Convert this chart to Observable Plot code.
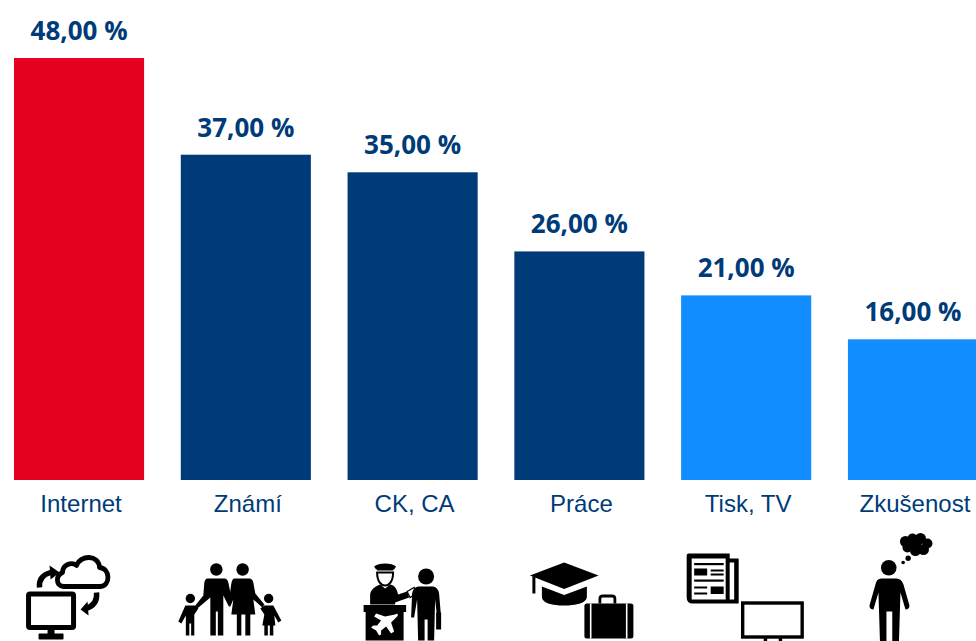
<!DOCTYPE html>
<html lang="cs">
<head>
<meta charset="utf-8">
<script src="https://cdn.jsdelivr.net/npm/d3@7"></script>
<script src="https://cdn.jsdelivr.net/npm/@observablehq/plot@0.6"></script>
<style>
html,body{margin:0;padding:0;background:#fff;overflow:hidden}
</style>
</head>
<body>
<div id="chart"></div>
<script>
const categories = ["Internet", "Známí", "CK, CA", "Práce", "Tisk, TV", "Zkušenost"];
const shares = [48, 37, 35, 26, 21, 16];
const valueLabels = ["48,00 %", "37,00 %", "35,00 %", "26,00 %", "21,00 %", "16,00 %"];
const barColors = ["#e6001f", "#003b79", "#003b79", "#003b79", "#128dff", "#128dff"];

const iconInternet = `
<path fill="none" stroke="#000" stroke-width="4.8" stroke-linejoin="round" d="M49 55 C41 54 41 44 48 41 C48 33 57 30 62 34 C66 23 84 23 85 36 C96 37 96 54 86 55 Z"/>
<rect x="14" y="62.5" width="45" height="33.5" rx="1.5" fill="none" stroke="#000" stroke-width="5"/>
<rect x="33" y="97" width="7" height="6"/><rect x="24" y="102" width="25" height="6" rx="1"/>
<path fill="none" stroke="#000" stroke-width="5.4" d="M25 56 C24 47 29 43 36 41"/><path d="M35 34 L45 41 L36 48 Z"/>
<path fill="none" stroke="#000" stroke-width="5.4" d="M82 61 C83 70 78 75 71 77"/><path d="M73 70 L66 78 L74 84 Z"/>`;

const iconFamily = `
<circle cx="35" cy="38" r="6.2"/><circle cx="61.3" cy="38" r="6.2"/>
<circle cx="9" cy="67" r="4.7"/><circle cx="87.3" cy="67" r="4.7"/>
<path d="M26 47 H43 Q46 47 47 51 L50 66 L48 76 L45 70 L42 64 V104 H36.5 V80 H34.5 V104 H29 V66 L16 77 L14 74 L22 64 L23 51 Q24 47 26 47 Z"/>
<path d="M53 47 H68 Q71 47 72 51 L74 62 L83 73 L81 76 L72 68 L74 83 H69 V104 H64 V83 H60 V104 H55.5 V83 H50 L52 68 L49 75 L47 73 L50 52 Q51 47 53 47 Z"/>
<path d="M4 74 H14 L17 77 L13 83 V104 H9.8 V92 H8 V104 H4.5 V84 L0 92 L-3 90 Z"/>
<path d="M83 74 H92 L100 89 L97 91 L93 84 L94 94 H92 V104 H88.5 V94 H86.5 V104 H83 V94 H81 L83 83 L79 77 Z"/>`;

const iconAgency = `
<path d="M26 35 C30 31 44 31 48 35 L46 38 H28 Z"/><rect x="29" y="37" width="16" height="2"/>
<path d="M29 41 C29 50 33 54 37 54 C41 54 45 50 45 41 Z" fill="none" stroke="#000" stroke-width="2"/>
<path d="M22 73 V64 C22 58 27 55 32 53 L37 57 L42 53 C47 54 49 58 50 63 L59 60 L61 66 L47 71 V73 Z"/>
<path d="M59 60 L66 56 L68 62 L62 66 Z" fill="none" stroke="#000" stroke-width="1.2"/>
<rect x="15.5" y="73.5" width="42.5" height="7"/><rect x="17.5" y="80" width="38" height="29"/>
<path fill="#fff" d="M47 83 C49 81 51 83 49 85 L43 91 L46 100 L43 102 L38 95 L33 99 L33 103 L31 104 L28 99 L23 96 L25 94 L29 94 L33 89 L26 85 L28 82 L37 85 Z"/>
<circle cx="78" cy="45" r="8"/>
<path d="M70 55 H85 Q90 56 91 62 L93 86 H89 L87 68 L86 109 H79.5 V88 H76.5 V109 H70 L69 68 L66 86 H63 L64 62 Q65 56 70 55 Z"/>
<rect x="88" y="81" width="5" height="17"/>`;

const iconWork = `
<path d="M15 44 L49.3 31 L83.7 44 L49.3 57.5 Z"/>
<rect x="17.5" y="45" width="3" height="17"/>
<path d="M27 55 L49.3 63.5 L72 55 V65 C72 72 60 74 49.3 74 C38 74 27 72 27 65 Z"/>
<path fill="none" stroke="#000" stroke-width="2.8" d="M85 72 V67 Q85 64.5 88 64.5 H97 Q100 64.5 100 67 V72"/>
<rect x="69.5" y="72" width="49" height="35" rx="2.5"/>
<rect x="75" y="72" width="1.6" height="35" fill="#fff"/><rect x="111" y="72" width="1.6" height="35" fill="#fff"/>`;

const iconPress = `
<path d="M7 22 H48 V27 H57 V72 H11 Q5 72 5 66 V24 Q5 22 7 22 Z"/>
<path fill="#fff" d="M10 27 H44 V68 H10 Z"/>
<rect x="48" y="31" width="4.5" height="37" fill="#fff"/>
<rect x="12.5" y="31.5" width="29.5" height="2.2"/>
<rect x="12.5" y="37" width="13" height="7"/><rect x="29" y="38" width="13" height="2"/><rect x="29" y="42" width="13" height="2"/>
<rect x="12.5" y="48" width="29.5" height="2.2"/>
<rect x="12.5" y="55" width="13" height="2"/><rect x="12.5" y="61" width="13" height="2"/><rect x="29" y="55" width="13" height="7.5"/>
<rect x="61" y="71.5" width="59.5" height="34" fill="#fff" stroke="#000" stroke-width="3.4"/>
<rect x="82" y="106" width="3.5" height="5"/><rect x="97" y="106" width="3.5" height="5"/>`;

const iconThought = `
<circle cx="40.3" cy="36.3" r="7.8"/>
<path d="M33 47 H48 Q53 47 55 53 L61 74 Q61 78 57 78 L52 61 L50.5 110 H43.8 V80 H38 V110 H31.5 L30 61 L25 78 Q21 78 21 74 L27 53 Q28 47 33 47 Z"/>
<circle cx="59.7" cy="26.7" r="2.7"/><circle cx="54.7" cy="31" r="1.8"/>
<circle cx="57" cy="10" r="5.5"/><circle cx="64" cy="7" r="5"/><circle cx="72" cy="7" r="5.5"/><circle cx="79" cy="12" r="5"/>
<circle cx="75" cy="18" r="5.5"/><circle cx="67" cy="19" r="5.5"/><circle cx="59" cy="16" r="5"/><circle cx="67" cy="12" r="6"/>`;

const icons = [iconInternet, iconFamily, iconAgency, iconWork, iconPress, iconThought];
const iconSrc = s => "data:image/svg+xml;charset=utf-8," + encodeURIComponent(
  `<svg xmlns="http://www.w3.org/2000/svg" viewBox="-5 0 140 110" width="140" height="110">${s}</svg>`);

const rows = categories.map((c, i) => ({category: c, share: shares[i], label: valueLabels[i], color: barColors[i], icon: iconSrc(icons[i])}));

const chart = Plot.plot({
  width: 976,
  height: 641,
  marginTop: 58,
  marginBottom: 161,
  marginLeft: 0,
  marginRight: 0,
  style: {background: "#fff", overflow: "hidden"},
  x: {domain: categories, range: [14, 978], paddingInner: 0.22, paddingOuter: 0, align: 0, round: false, label: null},
  y: {domain: [0, 48], axis: null, label: null},
  color: {type: "identity"},
  marks: [
    Plot.barY(rows, {x: "category", y: "share", fill: "color"}),
    Plot.text(rows, {
      x: "category", y: "share", text: "label",
      fill: "#003b79", fontFamily: "Open Sans", fontWeight: 700, fontSize: 26,
      lineAnchor: "bottom", dy: -18.5, dx: -0.5
    }),
    Plot.axisX({
      anchor: "bottom", tickSize: 0, tickPadding: 14, label: null,
      fontFamily: "Liberation Sans", fontSize: 24, fill: "#003b79", dx: 1.5
    }),
    Plot.image(rows, {
      x: "category", src: "icon", width: 140, height: 110,
      frameAnchor: "bottom", dy: 106
    })
  ]
});
document.getElementById("chart").appendChild(chart);
</script>
</body>
</html>
